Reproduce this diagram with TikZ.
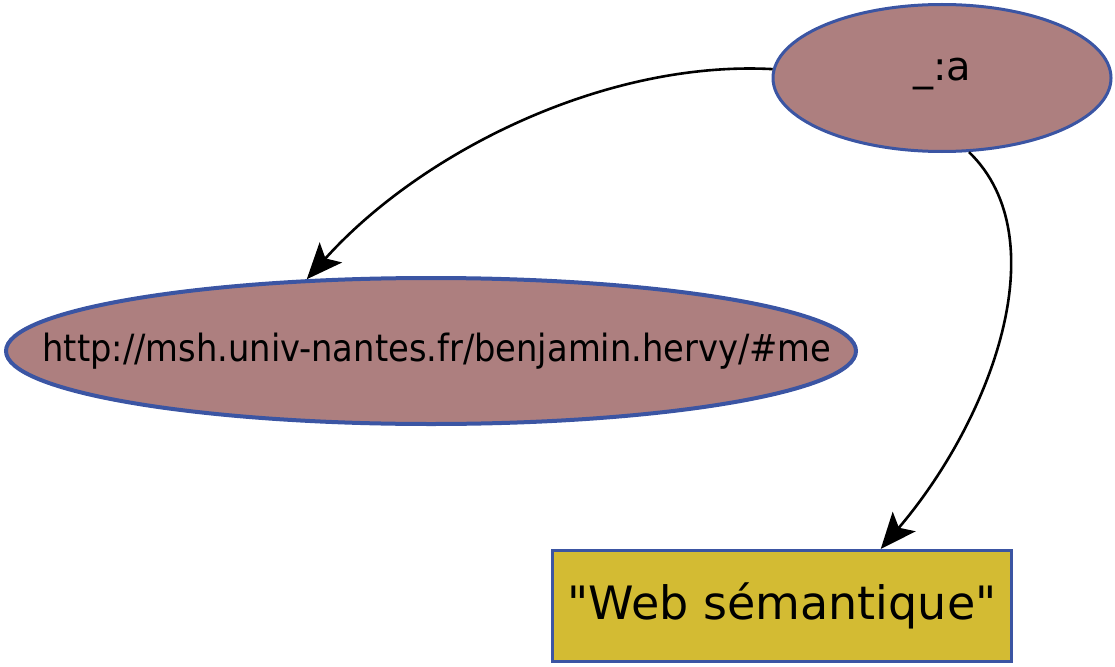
\documentclass[tikz,border=0pt]{standalone}
\usepackage{fontspec}
\usepackage{tikz}
\usepackage{xcolor}
\usetikzlibrary{arrows.meta,shapes.geometric}
\setmainfont{DejaVu Sans}
\newfontfamily\condfont{DejaVu Sans Condensed}
\definecolor{nodeFill}{HTML}{AD7F7F}
\definecolor{litFill}{HTML}{D3BB33}
\definecolor{rim}{HTML}{3B55A3}

\begin{document}
\begin{tikzpicture}[x=1pt,y=-1pt,
    resource/.style={draw=rim,ellipse,fill=nodeFill,inner sep=0pt},
    literal/.style={draw=rim,line width=3pt,fill=litFill,inner sep=0pt,
                    minimum width=459pt,minimum height=111pt},
    link/.style={line width=2.6pt,-{Stealth[length=36pt,width=30pt,inset=8pt]}}]
    \useasboundingbox (0,0) rectangle (1115,666);
    \node[resource,line width=3pt,minimum width=338pt,minimum height=147pt,
          label={[font=\fontsize{40}{48}\selectfont,yshift=4pt]center:\_:a}]
          (blank) at (942,78) {};
    \node[resource,line width=4pt,minimum width=850pt,minimum height=146pt,
          label={[font=\condfont\fontsize{37.5}{45}\selectfont,xshift=6pt]center:http://msh.univ-nantes.fr/benjamin.hervy/\#me}]
          (me) at (431,351) {};
    \node[literal,font=\fontsize{46}{55}\selectfont] (name) at (782,606)
          {\textquotedbl Web sémantique\textquotedbl};
    \draw[link] (blank.177) .. controls +(-167,-9) and +(115,-128) .. (me.150);
    \draw[link] (blank.290) .. controls +(90,87) and +(110,-129) .. (name.30);
\end{tikzpicture}
\end{document}
